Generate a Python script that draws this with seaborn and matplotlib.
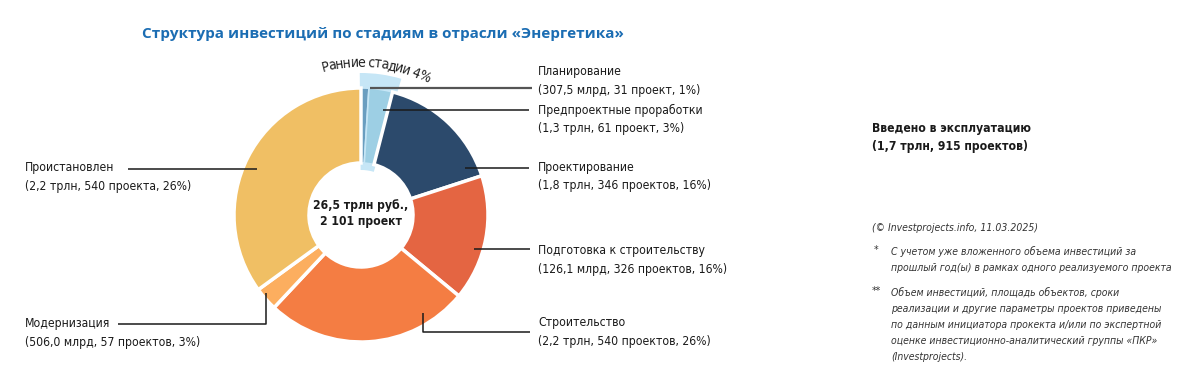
import numpy as np
import seaborn as sns
import matplotlib.pyplot as plt
from matplotlib import font_manager
from matplotlib.font_manager import FontProperties
from matplotlib.patches import Wedge

# data
stages = ["Планирование", "Предпроектные проработки", "Проектирование",
          "Подготовка к строительству", "Строительство", "Модернизация", "Проистановлен"]
shares = [1, 3, 16, 16, 26, 3, 35]          # slice sizes as drawn (%)
label_pct = [1, 3, 16, 16, 26, 3, 26]        # percentages printed in the labels
investments = ["307,5 млрд", "1,3 трлн", "1,8 трлн", "126,1 млрд", "2,2 трлн", "506,0 млрд", "2,2 трлн"]
projects = ["31 проект", "61 проект", "346 проектов", "326 проектов", "540 проектов",
            "57 проектов", "540 проекта"]
colors = ["#6a9ec0", "#9dcfe4", "#2c4a6c", "#e46542", "#f47d43", "#fcae5f", "#f0bf64"]

total_text = "26,5 трлн руб.,\n2 101 проект"
commissioned = "Введено в эксплуатацию\n(1,7 трлн, 915 проектов)"
early_label = "Ранние стадии 4%"

sns.set_theme(style="white")

# look for a narrow face, the reference uses a condensed font
names = {f.name for f in font_manager.fontManager.ttflist}
cond = [f for f in font_manager.fontManager.ttflist
        if f.name == "DejaVu Sans" and f.stretch == "condensed"]
if "Liberation Sans Narrow" in names:
    base, scale = "Liberation Sans Narrow", 1.0
elif cond:
    base, scale = "DejaVu Sans", 0.83
    plt.rcParams['font.stretch'] = 'condensed'
else:
    base, scale = "Roboto", 0.78
plt.rcParams['font.family'] = [base, 'DejaVu Sans']

W, H = 1200, 390
fig = plt.figure(figsize=(12, 3.9), dpi=100)
ax = fig.add_axes([0, 0, 1, 1])

def Y(y):
    # pixel row (from top) -> data y
    return H - y

cx, cy = 361, Y(215)
R, r_in = 127, 52

# highlight behind the early stages
ax.add_patch(Wedge((cx, cy), 142, 90 - 16.5, 90 + 0.5, width=97,
                   facecolor="#c6e6f6", edgecolor="none", zorder=0.5))

wedges, _ = ax.pie(shares, colors=colors, startangle=90, counterclock=False,
                   radius=R, center=(cx, cy), frame=True,
                   wedgeprops=dict(width=R - r_in, edgecolor="white", linewidth=2.5))
for w in wedges[:2]:
    w.set_edgecolor("#c6e6f6")
    w.set_linewidth(1.2)

ax.set_xlim(0, W)
ax.set_ylim(0, H)
ax.axis("off")

# curved label above the early stages, letters spaced by their own widths
arc_fs = 12 * scale
renderer = fig.canvas.get_renderer()
prop = FontProperties(family=[base, 'DejaVu Sans'], size=arc_fs,
                      stretch=plt.rcParams['font.stretch'])
widths = []
for ch in early_label:
    if ch == " ":
        widths.append(arc_fs * 0.35)
    else:
        widths.append(renderer.get_text_width_height_descent(ch, prop, ismath=False)[0] + 0.8)
widths = np.array(widths)
r_arc = 152
cum = np.cumsum(widths) - widths / 2
cum = (cum - cum[0]) / (cum[-1] - cum[0])
angs = -13.5 + (24.5 + 13.5) * cum
for ch, a in zip(early_label, angs):
    ax.text(cx + r_arc * np.sin(np.radians(a)), cy + r_arc * np.cos(np.radians(a)), ch,
            rotation=-a, rotation_mode="anchor", ha="center", va="center",
            fontsize=arc_fs, color="#222222")

ax.text(cx, Y(214), total_text, ha="center", va="center", fontsize=10.5 * scale,
        fontweight="bold", color="#1a1a1a", linespacing=1.3)

fig.text(142 / W, 1 - 34 / H, "Структура инвестиций по стадиям в отрасли «Энергетика»",
         ha="left", va="center", fontsize=11, fontweight="bold", color="#1b6db3",
         family=["Open Sans", "DejaVu Sans"])

labels = [f"{s}\n({i}, {p}, {c}%)" for s, i, p, c in zip(stages, investments, projects, label_pct)]
label_pos = [(538, 81), (538, 119.5), (538, 176.5), (538, 260), (538, 332), (25, 333), (25, 177)]
for txt, (lx, ly) in zip(labels, label_pos):
    ax.text(lx, Y(ly), txt, ha="left", va="center", fontsize=10.5 * scale, color="#1a1a1a",
            linespacing=1.55)

leaders = [
    ([370, 532], [88, 88], "#555555", 1.6),
    ([383, 529], [110, 110], "#1a1a1a", 1.1),
    ([465, 529], [168, 168], "#1a1a1a", 1.1),
    ([474, 530], [249, 249], "#1a1a1a", 1.1),
    ([423, 423, 530], [313, 332, 332], "#1a1a1a", 1.1),
    ([266, 266, 118], [293, 324, 324], "#1a1a1a", 1.1),
    ([128, 257], [169, 169], "#1a1a1a", 1.1),
]
for xs, ys, c, lw in leaders:
    ax.plot(xs, [Y(v) for v in ys], color=c, lw=lw, solid_capstyle="butt", zorder=3)

ax.text(872, Y(137.5), commissioned, ha="left", va="center", fontsize=10.5 * scale,
        fontweight="bold", color="#1a1a1a", linespacing=1.55)

note_kw = dict(ha="left", va="center", fontsize=9 * scale, style="italic", color="#333333")
ax.text(872, Y(228), "(© Investprojects.info, 11.03.2025)", **note_kw)
ax.text(874, Y(250), "*", **note_kw)
ax.text(891, Y(259.5), "С учетом уже вложенного объема инвестиций за\n"
        "прошлый год(ы) в рамках одного реализуемого проекта", linespacing=1.75, **note_kw)
ax.text(872, Y(291), "**", **note_kw)
ax.text(891, Y(325), "Объем инвестиций, площадь объектов, сроки\n"
        "реализации и другие параметры проектов приведены\n"
        "по данным инициатора прокекта и/или по экспертной\n"
        "оценке инвестиционно-аналитический группы «ПКР»\n"
        "(Investprojects).", linespacing=1.75, **note_kw)

fig.savefig("out.png", dpi=100, facecolor="white")
